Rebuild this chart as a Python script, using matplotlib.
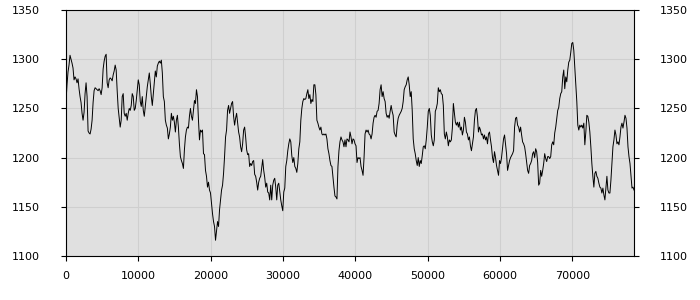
import numpy as np
import matplotlib
matplotlib.use("Agg")
import matplotlib.pyplot as plt

# ---- data ----
x_max = 78500
y_ticks = [1100, 1150, 1200, 1250, 1300, 1350]
x_ticks = [0, 10000, 20000, 30000, 40000, 50000, 60000, 70000]

seg1 = [1257, 1274, 1287, 1294, 1304, 1300, 1296, 1291, 1279, 1282, 1280, 1276, 1280, 1270,
        1262, 1256, 1245, 1238, 1246, 1265, 1276, 1262, 1227, 1225, 1224, 1229, 1238, 1256,
        1268, 1271, 1270, 1269, 1268, 1270, 1268, 1264, 1271, 1290, 1298, 1303, 1305, 1276,
        1271, 1279, 1281, 1280, 1278, 1284, 1288, 1294, 1289, 1268, 1250, 1241]
seg2 = [1231, 1238, 1262, 1265, 1245, 1242, 1245, 1238, 1245, 1250, 1248, 1253,
        1265, 1262, 1248, 1250, 1258, 1269, 1279, 1274, 1257, 1252, 1262, 1248, 1242, 1252,
        1262, 1272, 1279, 1286, 1275, 1262, 1253, 1265, 1276, 1288, 1282, 1293, 1296]
seg3 = [1298, 1296, 1299, 1286, 1262, 1257, 1238, 1233, 1230, 1219, 1224, 1231, 1245, 1238,
        1242, 1236, 1226, 1238, 1243, 1231, 1214, 1201, 1197, 1194, 1189, 1208, 1221, 1228,
        1231, 1230, 1242, 1250, 1242, 1238, 1248, 1258, 1255, 1269, 1262, 1238, 1218, 1228,
        1226, 1228, 1204, 1203, 1187, 1181, 1170, 1175, 1167, 1164, 1153, 1143, 1135, 1130,
        1116, 1126, 1135, 1130, 1147, 1157, 1167, 1172, 1184, 1201, 1221, 1228, 1248, 1253,
        1245, 1250, 1255, 1257, 1242, 1233, 1240, 1245, 1235, 1226, 1221, 1211, 1206, 1214,
        1228, 1231, 1221, 1208, 1203, 1204, 1191, 1194, 1192, 1196, 1197]
seg4 = [1183, 1181, 1175, 1167, 1175, 1179, 1181, 1190, 1198,
        1187, 1180, 1170, 1174, 1165, 1164, 1157, 1172, 1157, 1172, 1177, 1179, 1170, 1157,
        1172, 1174, 1165, 1157, 1151, 1146, 1165, 1169, 1191, 1197, 1207, 1214, 1219, 1216,
        1202, 1195, 1200, 1191, 1189, 1185, 1194, 1209, 1216, 1238, 1250, 1257, 1260, 1259,
        1260, 1265, 1269, 1260, 1264, 1255, 1259, 1257, 1274, 1274, 1264, 1238, 1235, 1231,
        1228, 1231, 1224, 1223, 1224, 1223, 1224, 1219, 1209, 1204, 1197, 1192, 1191, 1180,
        1170, 1161, 1160, 1158, 1191, 1207, 1216, 1221, 1218, 1216, 1211, 1218, 1211, 1219, 1218]
seg5 = [1216, 1226, 1221, 1214, 1219, 1218, 1214, 1212, 1195, 1200, 1199, 1200, 1191, 1187,
        1182, 1200, 1224, 1228, 1226, 1228, 1224, 1223, 1219, 1224, 1235, 1241, 1243, 1241,
        1247, 1248, 1255, 1269, 1274, 1262, 1267, 1260, 1257, 1245, 1241, 1243, 1240, 1247,
        1253, 1247, 1243, 1226, 1223, 1221, 1233, 1240, 1243, 1245, 1247, 1250, 1257, 1269,
        1272, 1274, 1279, 1282, 1274, 1262, 1267, 1248, 1219, 1209, 1204, 1197, 1192, 1200,
        1191, 1197, 1194, 1202, 1211, 1212, 1209, 1218, 1231, 1247, 1250, 1243, 1223, 1216,
        1212, 1218, 1247, 1250, 1255, 1271, 1267, 1269, 1265, 1264, 1253, 1224]
seg6 = [1219, 1226, 1221, 1212, 1218, 1216, 1218, 1230, 1255, 1245, 1236, 1233, 1236, 1231,
        1236, 1228, 1231, 1223, 1228, 1241, 1236, 1226, 1224, 1218, 1221, 1212, 1207, 1214,
        1221, 1238, 1248, 1250, 1241, 1226, 1231, 1228, 1223, 1224, 1219, 1223, 1218, 1221,
        1214, 1224, 1226, 1218, 1211, 1200, 1195, 1206, 1200, 1192, 1187, 1182, 1197, 1194,
        1200, 1209, 1219, 1223, 1214, 1204, 1187, 1192, 1197, 1200, 1202, 1204, 1207, 1231,
        1240, 1241, 1233, 1231, 1226, 1231, 1223, 1216, 1214, 1211, 1204, 1195, 1187, 1184,
        1192, 1194, 1197, 1204, 1206, 1200, 1209, 1206, 1195, 1172]
seg7 = [1174, 1187, 1181, 1187, 1194, 1204, 1199, 1196, 1201, 1201, 1199, 1201, 1213, 1216,
        1213, 1225, 1231, 1240, 1248, 1251, 1260, 1265, 1267, 1282, 1289, 1270, 1282, 1277,
        1289, 1297, 1299, 1307, 1316, 1317, 1309, 1292, 1275, 1257, 1233, 1228, 1233, 1231,
        1233, 1230, 1235, 1213, 1226, 1243, 1242, 1236, 1226, 1211, 1194, 1181, 1170, 1184,
        1186, 1181, 1179, 1174, 1170, 1169, 1164, 1169, 1162, 1157, 1169, 1181, 1167, 1164,
        1164, 1177, 1194, 1211, 1218, 1228, 1223, 1214, 1216, 1213, 1221, 1231, 1235, 1230,
        1236, 1243, 1240, 1230, 1211, 1201, 1194, 1181, 1169, 1170, 1167]

values = np.array(seg1 + seg2 + seg3 + seg4 + seg5 + seg6 + seg7, dtype=float)
x = np.linspace(0, x_max, len(values))

# ---- figure ----
fig = plt.figure(figsize=(7, 3), dpi=100)
ax = fig.add_axes([66 / 700, 1 - 256 / 300, (634 - 66) / 700, (256 - 10) / 300])
ax.set_facecolor("#e0e0e0")

ax.plot(x, values, color="black", linewidth=0.7)

ax.set_xlim(0, x_max)
ax.set_ylim(1100, 1350)
ax.set_xticks(x_ticks)
ax.set_xticklabels([str(t) for t in x_ticks])
ax.set_yticks(y_ticks)
ax.set_yticklabels([str(t) for t in y_ticks])

ax.grid(True, color="#cfcfcf", linewidth=0.8)
ax.set_axisbelow(True)

for s in ax.spines.values():
    s.set_color("black")
    s.set_linewidth(0.8)

ax.tick_params(axis="y", which="both", left=True, right=True, labelleft=True,
               labelright=True, direction="out", length=3.5, width=0.8,
               pad=15, labelsize=8, colors="black")
ax.tick_params(axis="x", direction="out", length=3.5, width=0.8, pad=7,
               labelsize=8, colors="black")

fig.savefig("out.png", dpi=100)
